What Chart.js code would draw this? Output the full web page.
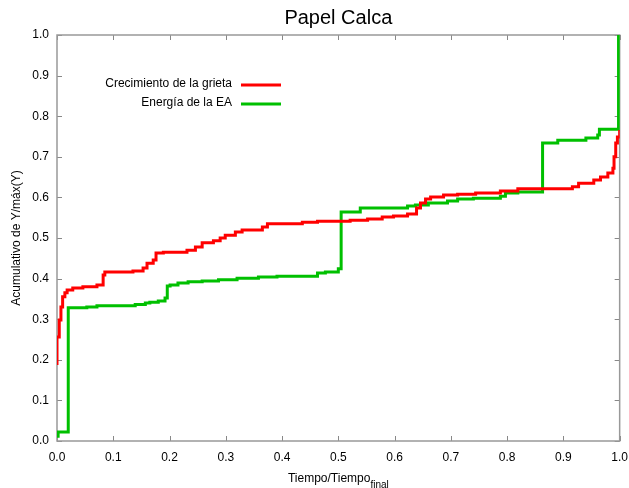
<!DOCTYPE html>
<html>
<head>
<meta charset="utf-8">
<script src="https://cdn.jsdelivr.net/npm/chart.js@4.4.0/dist/chart.umd.min.js"></script>
<style>
  html, body { margin: 0; padding: 0; background: #fff; }
  #wrap { width: 629px; height: 488px; }
</style>
</head>
<body>
<div id="wrap"><canvas id="chart"></canvas></div>
<script>
const chartTitle = "Papel Calca";
const xTitle = "Tiempo/Tiempo";
const xTitleSub = "final";
const yTitle = "Acumulativo de Y/máx(Y)";
const seriesNames = ["Crecimiento de la grieta", "Energía de la EA"];

// Crecimiento de la grieta (each point: new level starts at x)
const crackX = [0.000, 0.000, 0.004, 0.007, 0.010, 0.014, 0.018, 0.028, 0.046, 0.071,
  0.082, 0.085, 0.135, 0.153, 0.160, 0.171, 0.176, 0.189, 0.231, 0.246,
  0.258, 0.278, 0.290, 0.299, 0.317, 0.329, 0.365, 0.374, 0.436, 0.463,
  0.521, 0.552, 0.578, 0.598, 0.623, 0.639, 0.646, 0.655, 0.664, 0.687,
  0.712, 0.744, 0.788, 0.819, 0.916, 0.927, 0.954, 0.966, 0.979, 0.988,
  0.990, 0.993, 0.996, 1.000];
const crackY = [0.187, 0.256, 0.298, 0.330, 0.355, 0.365, 0.372, 0.377, 0.380, 0.384,
  0.409, 0.416, 0.419, 0.426, 0.438, 0.446, 0.463, 0.465, 0.470, 0.478,
  0.488, 0.493, 0.500, 0.507, 0.515, 0.520, 0.527, 0.535, 0.539, 0.541,
  0.544, 0.547, 0.552, 0.554, 0.559, 0.574, 0.586, 0.596, 0.601, 0.606,
  0.608, 0.611, 0.616, 0.621, 0.626, 0.635, 0.643, 0.650, 0.660, 0.672,
  0.700, 0.734, 0.749, 0.766];

// Energía de la EA
const energyX = [0.000, 0.002, 0.020, 0.053, 0.071, 0.139, 0.157, 0.165, 0.180, 0.192,
  0.196, 0.201, 0.215, 0.233, 0.258, 0.287, 0.320, 0.358, 0.391, 0.463,
  0.477, 0.500, 0.505, 0.539, 0.623, 0.637, 0.660, 0.694, 0.712, 0.740,
  0.788, 0.797, 0.819, 0.863, 0.890, 0.940, 0.961, 0.964, 0.998];
const energyY = [0.012, 0.022, 0.328, 0.330, 0.333, 0.336, 0.340, 0.342, 0.345, 0.352,
  0.382, 0.384, 0.389, 0.392, 0.394, 0.397, 0.401, 0.404, 0.406, 0.414,
  0.416, 0.424, 0.564, 0.574, 0.579, 0.581, 0.586, 0.591, 0.596, 0.598,
  0.603, 0.611, 0.613, 0.734, 0.741, 0.746, 0.754, 0.768, 1.000];

const tickValues = [0, 0.1, 0.2, 0.3, 0.4, 0.5, 0.6, 0.7, 0.8, 0.9, 1.0];

function toPoints(xs, ys) {
  return xs.map((x, i) => ({ x: x, y: ys[i] }));
}

const FONT = "'Liberation Sans', Arial, sans-serif";

// frame with inward ticks on all four sides, like gnuplot
const framePlugin = {
  id: "frame",
  beforeDatasetsDraw(chart) {
    const ctx = chart.ctx;
    const a = chart.chartArea;
    const xs = chart.scales.x, ys = chart.scales.y;
    ctx.save();
    ctx.strokeStyle = "#888";
    ctx.lineWidth = 1;
    tickValues.forEach(function (v) {
      const px = Math.round(xs.getPixelForValue(v)) + 0.5;
      const py = Math.round(ys.getPixelForValue(v)) + 0.5;
      ctx.beginPath();
      ctx.moveTo(px, a.bottom); ctx.lineTo(px, a.bottom - 5);
      ctx.moveTo(px, a.top); ctx.lineTo(px, a.top + 5);
      ctx.moveTo(a.left, py); ctx.lineTo(a.left + 5, py);
      ctx.moveTo(a.right, py); ctx.lineTo(a.right - 5, py);
      ctx.stroke();
    });
    ctx.strokeStyle = "#999";
    ctx.lineWidth = 1.5;
    ctx.strokeRect(a.left, a.top, a.right - a.left, a.bottom - a.top);
    ctx.restore();
  },
  afterDraw(chart) {
    const ctx = chart.ctx;
    const a = chart.chartArea;
    const cx = (a.left + a.right) / 2;
    ctx.save();
    ctx.fillStyle = "#000";
    // title
    ctx.font = "20px " + FONT;
    ctx.textAlign = "center";
    ctx.textBaseline = "middle";
    ctx.fillText(chartTitle, cx, 18);
    // x title with subscript
    ctx.font = "12px " + FONT;
    const w1 = ctx.measureText(xTitle).width;
    ctx.font = "10px " + FONT;
    const w2 = ctx.measureText(xTitleSub).width;
    let x0 = cx - (w1 + w2) / 2;
    ctx.textAlign = "left";
    ctx.font = "12px " + FONT;
    ctx.fillText(xTitle, x0, 479);
    ctx.font = "10px " + FONT;
    ctx.fillText(xTitleSub, x0 + w1, 485);
    // y title
    ctx.font = "12px " + FONT;
    ctx.translate(17, (a.top + a.bottom) / 2);
    ctx.rotate(-Math.PI / 2);
    ctx.textAlign = "center";
    ctx.fillText(yTitle, 0, 0);
    ctx.restore();

    // legend: text right-aligned, then line sample
    ctx.save();
    ctx.font = "12px " + FONT;
    ctx.textAlign = "right";
    ctx.textBaseline = "middle";
    chart.data.datasets.forEach(function (ds, i) {
      const y = 84 + i * 19;
      ctx.fillStyle = "#000";
      ctx.fillText(ds.label, 232, y);
      ctx.strokeStyle = ds.borderColor;
      ctx.lineWidth = 3;
      ctx.beginPath();
      ctx.moveTo(241, y + 1);
      ctx.lineTo(281, y + 1);
      ctx.stroke();
    });
    ctx.restore();
  }
};

new Chart("chart", {
  type: "line",
  data: {
    datasets: [
      {
        label: seriesNames[0],
        data: toPoints(crackX, crackY),
        borderColor: "#ff0000",
        borderWidth: 3,
        stepped: true,
        pointRadius: 0,
        fill: false,
      },
      {
        label: seriesNames[1],
        data: toPoints(energyX, energyY),
        borderColor: "#00c000",
        borderWidth: 3,
        stepped: true,
        pointRadius: 0,
        fill: false,
      },
    ],
  },
  options: {
    responsive: true,
    maintainAspectRatio: false,
    animation: false,
    layout: { padding: { top: 35, right: 4, left: 0, bottom: 0 } },
    plugins: {
      legend: { display: false },
      title: { display: false },
      tooltip: { enabled: false },
    },
    scales: {
      x: {
        type: "linear",
        min: 0,
        max: 1,
        grid: { display: false },
        border: { display: false },
        ticks: {
          stepSize: 0.1,
          color: "#000",
          font: { family: FONT, size: 12 },
          padding: 1,
          maxRotation: 0,
          callback: (v) => v.toFixed(1),
        },
        afterFit: (s) => { s.height = 47; },
      },
      y: {
        type: "linear",
        min: 0,
        max: 1,
        grid: { display: false },
        border: { display: false },
        ticks: {
          stepSize: 0.1,
          color: "#000",
          font: { family: FONT, size: 12 },
          padding: 0,
          callback: (v) => v.toFixed(1),
        },
        afterFit: (s) => { s.width = 57; },
      },
    },
  },
  plugins: [framePlugin],
});
</script>
</body>
</html>
